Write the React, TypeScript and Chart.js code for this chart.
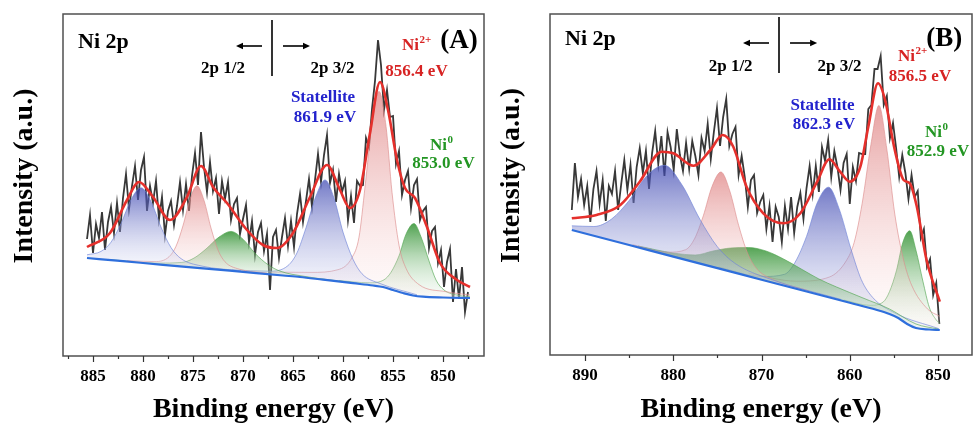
import React, { useEffect, useRef } from 'react';
import { Chart, registerables } from 'chart.js';

Chart.register(...registerables);

const FONT = "'Times New Roman', 'Liberation Serif', serif";
const RED_TXT = 'rgb(215,35,35)';
const BLUE_TXT = 'rgb(35,35,205)';
const GREEN_TXT = 'rgb(35,150,35)';

type Pt = [number, number];

// ---------------- Panel A ----------------
const rawStartA = 885.6;
const rawStepA = 0.3;
const rawA = [
  117, 141, 103, 132, 118, 144, 106, 134, 149, 123,
  153, 124, 158, 182, 147, 170, 190, 156, 186, 199,
  145, 170, 153, 175, 137, 159, 121, 145, 155, 131,
  150, 174, 146, 172, 145, 180, 203, 171, 224, 189,
  164, 194, 165, 178, 142, 175, 157, 174, 136, 152,
  158, 122, 137, 151, 114, 135, 101, 124, 133, 105,
  122, 66, 119, 126, 98, 119, 138, 110, 135, 109,
  142, 162, 134, 155, 177, 149, 176, 202, 174, 201,
  221, 173, 186, 154, 182, 164, 175, 136, 160, 133,
  175, 170, 171, 218, 209, 247, 275, 316, 291, 246,
  266, 239, 240, 192, 205, 161, 176, 185, 148, 171,
  177, 136, 145, 149, 108, 125, 129, 93, 106, 69,
  94, 107, 54, 87, 57, 89, 44, 64,
];
const baseA: Pt[] = [
  [885.6, 98], [882, 94.8], [878, 91.2], [874, 87.7], [870, 84.1], [866, 80.5],
  [864.3, 79], [862, 76.3], [859, 72.8], [857, 70.5], [856, 69], [855, 66],
  [854, 63], [853, 60.5], [852, 59.3], [850, 58.5], [847.3, 58],
];
const envA: Pt[] = [
  [885.6, 109], [883.3, 123], [881.6, 156], [880.4, 174], [879.0, 159], [877.3, 136],
  [875.6, 159], [874.2, 190], [873.0, 169], [871.6, 153], [869.6, 126], [868.0, 111],
  [866.6, 108], [865.0, 123], [863.3, 159], [861.6, 191], [860.3, 166], [859.3, 148],
  [858.3, 166], [857.3, 223], [856.3, 274], [855.5, 246], [854.6, 196], [853.8, 168],
  [852.8, 158], [851.6, 129], [850.3, 93], [848.6, 76], [847.3, 69],
];
const satA1: Pt[] = [
  [885.6, 101.2], [884.2, 104.6], [883.2, 113.8], [882.2, 132.5], [881.2, 156.3], [880.2, 168.2],
  [879.2, 154.5], [878.2, 128.9], [877.2, 108.4], [876.2, 97.4], [874.2, 90.1], [870.2, 85.2],
];
const ni2A1: Pt[] = [
  [881.6, 95.4], [878.8, 94.4], [877.4, 99.2], [876.7, 109.7], [876.0, 130.4], [875.3, 156.8],
  [874.6, 170.2], [873.9, 155.6], [873.2, 127.9], [872.5, 105.9], [871.8, 94.2], [870.4, 86.9], [867.6, 82.9],
];
const ni0A1: Pt[] = [
  [883.5, 96.6], [878.6, 92.9], [876.1, 93.6], [874.9, 97.9], [873.7, 107.0], [872.4, 118.9],
  [871.2, 124.6], [870.0, 116.8], [868.8, 102.7], [867.5, 91.3], [866.3, 84.9], [863.9, 79.7], [859.0, 73.3],
];
const satA3: Pt[] = [
  [871.1, 86.2], [867.4, 84.8], [865.5, 90.4], [864.6, 103.2], [863.7, 128.2], [862.7, 160.0],
  [861.8, 176.1], [860.9, 157.9], [860.0, 123.9], [859.0, 96.7], [858.1, 82.2], [856.3, 72.5], [852.6, 61.2],
];
const ni2A3: Pt[] = [
  [867.2, 83.9], [863.2, 83.6], [860.5, 86.3], [859.1, 98.4], [858.4, 118.8], [857.8, 168.9],
  [857.1, 232.3], [856.4, 264.6], [855.7, 229.8], [855.1, 163.7], [854.4, 110.8], [853.7, 87.7],
  [852.4, 71.4], [849.7, 64.3], [847.3, 61],
];
const ni0A3: Pt[] = [
  [860.4, 75.5], [857.4, 73.2], [855.9, 76.2], [855.2, 83.7], [854.4, 100.2], [853.7, 121.8],
  [852.9, 132.4], [852.2, 119.2], [851.4, 95.1], [850.7, 76.0], [849.9, 66.0], [848.4, 60.5], [847.3, 59.3],
];

// ---------------- Panel B ----------------
const rawStartB = 891.5;
const rawStepB = 0.35;
const rawB = [
  145, 192, 158, 176, 150, 169, 133, 166, 184, 151,
  175, 134, 169, 161, 184, 145, 171, 195, 165, 190,
  152, 188, 207, 182, 204, 166, 202, 224, 191, 219,
  179, 223, 208, 185, 226, 200, 184, 212, 186, 214,
  199, 180, 217, 204, 231, 196, 223, 247, 209, 238,
  256, 209, 221, 228, 180, 199, 178, 148, 175, 180,
  142, 153, 160, 126, 149, 113, 148, 138, 113, 149,
  126, 158, 122, 148, 162, 136, 167, 189, 161, 189,
  163, 208, 194, 215, 178, 204, 188, 165, 192, 201,
  151, 188, 174, 202, 201, 201, 246, 250, 286, 286,
  299, 250, 259, 217, 232, 207, 178, 200, 182, 156,
  180, 158, 164, 117, 126, 88, 96, 60, 72, 31,
];
const baseB: Pt[] = [
  [891.5, 125], [885, 110], [880, 98.4], [875, 86.9], [870, 75.3], [865, 63.8], [860, 52.2],
  [857, 45.2], [855.5, 41], [854.5, 37], [853.5, 31], [852.5, 27], [851, 25.5], [849.8, 25],
];
const envB: Pt[] = [
  [891.5, 136.7], [888.7, 140], [886, 150], [883.8, 173.3], [881.3, 203.3], [880, 201.7],
  [877.7, 189.3], [875.8, 205], [874.4, 220], [873.2, 208.3], [871.7, 168.3], [869.8, 141.7],
  [867.5, 131.7], [865.6, 141.7], [863.7, 173.3], [862.3, 195.7], [861.1, 183.3], [860, 173.3],
  [858.8, 188.3], [857.9, 228.3], [856.8, 271.7], [856, 255], [854.9, 205], [853.9, 175],
  [853.2, 171.7], [852.4, 148.3], [851.3, 95], [849.8, 53.3],
];
const satB1: Pt[] = [
  [891.5, 129.2], [889.0, 128.5], [887.0, 135.9], [885.0, 154.5], [883.0, 179.2], [881.0, 189.7],
  [879.0, 169.9], [877.0, 136.0], [875.0, 108.2], [873.0, 91.6], [869.0, 75.8], [861.0, 55.6],
];
const ni2B1: Pt[] = [
  [884.6, 110.3], [880.6, 102.8], [878.6, 105.3], [877.6, 116.1], [876.6, 139.1], [875.6, 168.7],
  [874.6, 183.0], [873.6, 164.1], [872.6, 129.8], [871.6, 102.2], [870.6, 86.8], [868.6, 75.1], [864.6, 64.1],
];
const ni0B1: Pt[] = [
  [884, 109], [880, 102], [877.5, 100], [875.5, 104], [873.5, 107], [871.5, 107.5], [869.5, 104],
  [867.5, 96], [865.5, 86], [863.5, 76], [861.5, 68], [858.5, 57], [855.5, 46], [852.5, 31], [850, 26],
];
const satB3: Pt[] = [
  [874.9, 88.0], [869.9, 78.5], [867.4, 80.7], [866.2, 92.7], [864.9, 118.6], [863.7, 151.9],
  [862.4, 167.8], [861.2, 146.1], [859.9, 107.0], [858.7, 75.5], [857.4, 57.5], [854.9, 42.0], [849.9, 26.3],
];
const ni2B3: Pt[] = [
  [871.5, 81.9], [866.0, 73.8], [862.3, 78.0], [860.4, 94.2], [859.5, 112.6], [858.6, 151.4],
  [857.6, 210.6], [856.7, 249.5], [855.8, 205.8], [854.9, 140.9], [853.9, 94.9], [853.0, 70.0],
  [851.2, 46.1], [849.8, 38.7],
];
const ni0B3: Pt[] = [
  [860.7, 55.0], [857.7, 49.7], [856.2, 53.1], [855.5, 63.3], [854.7, 84.8], [854.0, 112.2],
  [853.2, 124.2], [852.5, 104.8], [851.7, 73.2], [851.0, 48.0], [850.2, 35.0], [849.8, 31.6],
];

// ---------------- styles ----------------
type Tone = 'blue' | 'red' | 'green';
const PAL: Record<Tone, { line: string; top: string; bottom: string }> = {
  blue: { line: 'rgba(110,130,215,0.8)', top: 'rgba(55,65,175,0.7)', bottom: 'rgba(220,224,246,0.2)' },
  red: { line: 'rgba(220,140,140,0.8)', top: 'rgba(215,100,100,0.6)', bottom: 'rgba(252,230,230,0.2)' },
  green: { line: 'rgba(80,165,80,0.8)', top: 'rgba(30,135,30,0.78)', bottom: 'rgba(225,242,225,0.2)' },
};

type Item =
  | { kind: 'text'; text: string; sup?: string; x: number; y: number; align: 'left' | 'center'; size?: number; color?: string }
  | { kind: 'vline'; x: number; y1: number; y2: number }
  | { kind: 'arrow'; x1: number; x2: number; y: number };

const itemsA: Item[] = [
  { kind: 'text', text: 'Ni 2p', x: 886.5, y: 308, align: 'left', size: 22 },
  { kind: 'vline', x: 867.1, y1: 336, y2: 280 },
  { kind: 'arrow', x1: 868.1, x2: 870.7, y: 310 },
  { kind: 'arrow', x1: 866.0, x2: 863.3, y: 310 },
  { kind: 'text', text: '2p 1/2', x: 872.0, y: 283, align: 'center' },
  { kind: 'text', text: '2p 3/2', x: 861.05, y: 283, align: 'center' },
  { kind: 'text', text: 'Ni', sup: '2+', x: 854.1, y: 306, align: 'left', color: RED_TXT },
  { kind: 'text', text: '(A)', x: 848.4, y: 308, align: 'center', size: 27 },
  { kind: 'text', text: '856.4 eV', x: 852.65, y: 280.5, align: 'center', color: RED_TXT },
  { kind: 'text', text: 'Statellite', x: 862.0, y: 254, align: 'center', color: BLUE_TXT },
  { kind: 'text', text: '861.9 eV', x: 861.8, y: 234, align: 'center', color: BLUE_TXT },
  { kind: 'text', text: 'Ni', sup: '0', x: 851.3, y: 206, align: 'left', color: GREEN_TXT },
  { kind: 'text', text: '853.0 eV', x: 849.95, y: 188, align: 'center', color: GREEN_TXT },
];
const itemsB: Item[] = [
  { kind: 'text', text: 'Ni 2p', x: 892.27, y: 310.5, align: 'left', size: 22 },
  { kind: 'vline', x: 868.02, y1: 338, y2: 282 },
  { kind: 'arrow', x1: 869.15, x2: 872.1, y: 312 },
  { kind: 'arrow', x1: 866.77, x2: 863.7, y: 312 },
  { kind: 'text', text: '2p 1/2', x: 873.5, y: 284, align: 'center' },
  { kind: 'text', text: '2p 3/2', x: 861.16, y: 284, align: 'center' },
  { kind: 'text', text: '(B)', x: 849.3, y: 309, align: 'center', size: 27 },
  { kind: 'text', text: 'Ni', sup: '2+', x: 854.53, y: 294, align: 'left', color: RED_TXT },
  { kind: 'text', text: '856.5 eV', x: 852.04, y: 274, align: 'center', color: RED_TXT },
  { kind: 'text', text: 'Statellite', x: 863.09, y: 245.5, align: 'center', color: BLUE_TXT },
  { kind: 'text', text: '862.3 eV', x: 862.92, y: 226, align: 'center', color: BLUE_TXT },
  { kind: 'text', text: 'Ni', sup: '0', x: 851.47, y: 218, align: 'left', color: GREEN_TXT },
  { kind: 'text', text: '852.9 eV', x: 850.0, y: 199, align: 'center', color: GREEN_TXT },
];

interface PanelCfg {
  raw: number[]; rawStart: number; rawStep: number;
  env: Pt[]; base: Pt[];
  comps: { pts: Pt[]; tone: Tone }[];
  xMin: number; xMax: number; yMax: number;
  step: number; major: number;
  padRight: number; axisHeight: number;
  items: Item[];
}

const panelA: PanelCfg = {
  raw: rawA, rawStart: rawStartA, rawStep: rawStepA, env: envA, base: baseA,
  comps: [
    { pts: satA1, tone: 'blue' }, { pts: ni2A1, tone: 'red' }, { pts: ni0A1, tone: 'green' },
    { pts: satA3, tone: 'blue' }, { pts: ni2A3, tone: 'red' }, { pts: ni0A3, tone: 'green' },
  ],
  xMin: 845.9, xMax: 888.0, yMax: 342, step: 2.5, major: 5, padRight: 3, axisHeight: 74, items: itemsA,
};
const panelB: PanelCfg = {
  raw: rawB, rawStart: rawStartB, rawStep: rawStepB, env: envB, base: baseB,
  comps: [
    { pts: satB1, tone: 'blue' }, { pts: ni2B1, tone: 'red' }, { pts: ni0B1, tone: 'green' },
    { pts: satB3, tone: 'blue' }, { pts: ni2B3, tone: 'red' }, { pts: ni0B3, tone: 'green' },
  ],
  xMin: 846.15, xMax: 893.97, yMax: 341, step: 5, major: 10, padRight: 1, axisHeight: 75, items: itemsB,
};

const toXY = (pairs: Pt[]) => pairs.map(([x, y]) => ({ x, y }));
const isMajor = (v: number, m: number) => {
  const r = Math.abs(v % m);
  return r < 1e-6 || Math.abs(r - m) < 1e-6;
};

function gradientFor(tone: Tone) {
  return (c: any) => {
    const chart = c.chart;
    const pal = PAL[tone];
    if (!chart.chartArea || !chart.scales.y) return pal.top;
    const ds = chart.data.datasets[c.datasetIndex];
    const ys = (ds.data as { y: number }[]).map((p) => p.y);
    const top = chart.scales.y.getPixelForValue(Math.max(...ys));
    const bottom = chart.scales.y.getPixelForValue(Math.min(...ys));
    const g = chart.ctx.createLinearGradient(0, top, 0, bottom);
    g.addColorStop(0, pal.top);
    g.addColorStop(1, pal.bottom);
    return g;
  };
}

function makeDecor(cfg: PanelCfg) {
  return {
    id: 'xpsDecor',
    afterDraw(chart: any) {
      const { ctx, chartArea: a, scales } = chart;
      const xs = scales.x;
      const ys = scales.y;
      ctx.save();
      // frame
      ctx.strokeStyle = '#505050';
      ctx.lineWidth = 1.5;
      ctx.strokeRect(a.left, a.top, a.right - a.left, a.bottom - a.top);
      // ticks
      ctx.strokeStyle = '#333';
      ctx.lineWidth = 1.2;
      for (const t of xs.ticks) {
        const px = Math.round(xs.getPixelForValue(t.value)) + 0.5;
        const len = isMajor(t.value, cfg.major) ? 6 : 3;
        ctx.beginPath();
        ctx.moveTo(px, a.bottom);
        ctx.lineTo(px, a.bottom + len);
        ctx.stroke();
      }
      // y title
      ctx.save();
      ctx.translate(a.left - 38, (a.top + a.bottom) / 2 - 9);
      ctx.rotate(-Math.PI / 2);
      ctx.fillStyle = '#000';
      ctx.font = `bold 28px ${FONT}`;
      ctx.textAlign = 'center';
      ctx.textBaseline = 'middle';
      ctx.fillText('Intensity (a.u.)', 0, 0);
      ctx.restore();
      // annotations
      for (const it of cfg.items) {
        if (it.kind === 'vline') {
          const px = xs.getPixelForValue(it.x);
          ctx.strokeStyle = '#000';
          ctx.lineWidth = 1.6;
          ctx.beginPath();
          ctx.moveTo(px, ys.getPixelForValue(it.y1));
          ctx.lineTo(px, ys.getPixelForValue(it.y2));
          ctx.stroke();
        } else if (it.kind === 'arrow') {
          const p1 = xs.getPixelForValue(it.x1);
          const p2 = xs.getPixelForValue(it.x2);
          const py = ys.getPixelForValue(it.y);
          const dir = Math.sign(p2 - p1);
          ctx.strokeStyle = '#000';
          ctx.fillStyle = '#000';
          ctx.lineWidth = 1.6;
          ctx.beginPath();
          ctx.moveTo(p1, py);
          ctx.lineTo(p2 - dir * 4, py);
          ctx.stroke();
          ctx.beginPath();
          ctx.moveTo(p2, py);
          ctx.lineTo(p2 - dir * 7, py - 3.2);
          ctx.lineTo(p2 - dir * 7, py + 3.2);
          ctx.closePath();
          ctx.fill();
        } else {
          const size = it.size ?? 17;
          const px = xs.getPixelForValue(it.x);
          const py = ys.getPixelForValue(it.y);
          ctx.fillStyle = it.color ?? '#000';
          ctx.textBaseline = 'alphabetic';
          ctx.font = `bold ${size}px ${FONT}`;
          const w = ctx.measureText(it.text).width;
          let supW = 0;
          if (it.sup) {
            ctx.font = `bold 11px ${FONT}`;
            supW = ctx.measureText(it.sup).width + 0.5;
          }
          const start = it.align === 'left' ? px : px - (w + supW) / 2;
          ctx.textAlign = 'left';
          ctx.font = `bold ${size}px ${FONT}`;
          ctx.fillText(it.text, start, py);
          if (it.sup) {
            ctx.font = `bold 11px ${FONT}`;
            ctx.fillText(it.sup, start + w + 0.5, py - 7);
          }
        }
      }
      ctx.restore();
    },
  };
}

function Panel({ cfg, left, width }: { cfg: PanelCfg; left: number; width: number }) {
  const ref = useRef<HTMLCanvasElement>(null);
  useEffect(() => {
    if (!ref.current) return;
    const rawXY = cfg.raw.map((y, i) => ({ x: Math.round((cfg.rawStart - cfg.rawStep * i) * 100) / 100, y }));
    const datasets: any[] = [
      {
        label: 'Fitted envelope', data: toXY(cfg.env), borderColor: '#e5302c', borderWidth: 2.6,
        pointRadius: 0, cubicInterpolationMode: 'monotone', fill: false, order: 0,
      },
      {
        label: 'Background', data: toXY(cfg.base), borderColor: '#2f6fdc', borderWidth: 2.2,
        pointRadius: 0, cubicInterpolationMode: 'monotone', fill: false, order: 1,
      },
      ...cfg.comps.map((c, i) => ({
        label: `Component ${i + 1}`, data: toXY(c.pts), borderColor: PAL[c.tone].line, borderWidth: 0.8,
        pointRadius: 0, cubicInterpolationMode: 'monotone', fill: 1, backgroundColor: gradientFor(c.tone), order: 2,
      })),
      {
        label: 'Raw', data: rawXY, borderColor: '#383838', borderWidth: 1.8,
        pointRadius: 0, tension: 0, fill: false, order: 3,
      },
    ];
    const chart = new Chart(ref.current, {
      type: 'line',
      data: { datasets },
      options: {
        responsive: false,
        animation: false,
        devicePixelRatio: 1,
        events: [],
        layout: { padding: { left: 63, right: cfg.padRight, top: 14, bottom: 0 } },
        plugins: { legend: { display: false }, tooltip: { enabled: false } },
        scales: {
          x: {
            type: 'linear',
            reverse: true,
            min: cfg.xMin,
            max: cfg.xMax,
            afterFit: (s: any) => { s.height = cfg.axisHeight; },
            grid: { display: false, drawTicks: false },
            border: { display: false },
            ticks: {
              stepSize: cfg.step,
              autoSkip: false,
              maxRotation: 0,
              includeBounds: false,
              padding: 10,
              color: '#000',
              font: { family: FONT, size: 17, weight: 'bold' },
              callback: (v: any) => (isMajor(Number(v), cfg.major) ? String(v) : ''),
            },
            title: {
              display: true,
              text: 'Binding energy (eV)',
              color: '#000',
              font: { family: FONT, size: 28, weight: 'bold' },
              padding: { top: 0, bottom: 3 },
            },
          },
          y: { display: false, min: 0, max: cfg.yMax },
        },
      } as any,
      plugins: [makeDecor(cfg)],
    });
    return () => chart.destroy();
  }, [cfg]);
  return (
    <canvas
      ref={ref}
      width={width}
      height={430}
      style={{ position: 'absolute', left, top: 0, width, height: 430 }}
    />
  );
}

export default function App() {
  return (
    <div style={{ position: 'fixed', left: 0, top: 0, width: 973, height: 430, background: '#fff', overflow: 'hidden' }}>
      <Panel cfg={panelA} left={0} width={487} />
      <Panel cfg={panelB} left={487} width={486} />
    </div>
  );
}
